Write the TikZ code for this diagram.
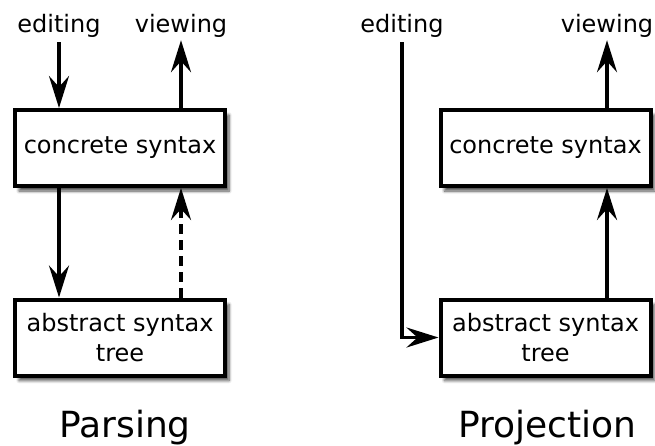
\documentclass[tikz,border=0pt]{standalone}
\usepackage{fontspec}
\setmainfont{DejaVu Sans}
\usetikzlibrary{arrows.meta,shadows.blur}

\tikzset{
  stx/.style={draw,line width=4pt,fill=white,minimum width=210pt,minimum height=76pt,
    align=center,font=\fontsize{24}{30}\selectfont,
    blur shadow={shadow xshift=4pt,shadow yshift=-5pt,shadow blur steps=6,
      shadow blur radius=3pt,shadow opacity=70}},
  lbl/.style={font=\fontsize{24}{30}\selectfont,inner sep=5pt,anchor=base},
  ttl/.style={font=\fontsize{36}{40}\selectfont,anchor=base},
  flow/.style={line width=3.5pt,-{Stealth[length=32pt,width=20pt,inset=11pt]}},
}

\begin{document}
\begin{tikzpicture}[x=1pt,y=-1pt]
  \useasboundingbox (0,0) rectangle (655,445);

  % parsing
  \node[stx] (csL) at (120,148) {concrete syntax};
  \node[stx] (astL) at (120,337.5) {abstract syntax\\tree};
  \node[lbl] (edL) at (59,32) {editing};
  \node[lbl] (viL) at (181,32) {viewing};
  \node[ttl] (parsing) at (125,437) {Parsing};

  \draw[flow] (edL.south) -- (edL.south |- csL.north);
  \draw[flow] (viL.south |- csL.north) -- ([yshift=2pt]viL.south);
  \draw[flow] (edL.south |- csL.south) -- (edL.south |- astL.north);
  \draw[flow,dash pattern=on 10pt off 6pt]
    (viL.south |- astL.north) -- (viL.south |- csL.south);

  % projection
  \node[stx] (csR) at (545.5,148) {concrete syntax};
  \node[stx] (astR) at (545.5,337.5) {abstract syntax\\tree};
  \node[lbl] (edR) at (402,32) {editing};
  \node[lbl] (viR) at (607,32) {viewing};
  \node[ttl] (projection) at (547,437) {Projection};

  \draw[flow]
    (edR.south)
    -- (edR.south |- astR.west)
    -- (astR.west);
  \draw[flow] (viR.south |- astR.north) -- (viR.south |- csR.south);
  \draw[flow] (viR.south |- csR.north) -- ([yshift=2pt]viR.south);
\end{tikzpicture}
\end{document}
